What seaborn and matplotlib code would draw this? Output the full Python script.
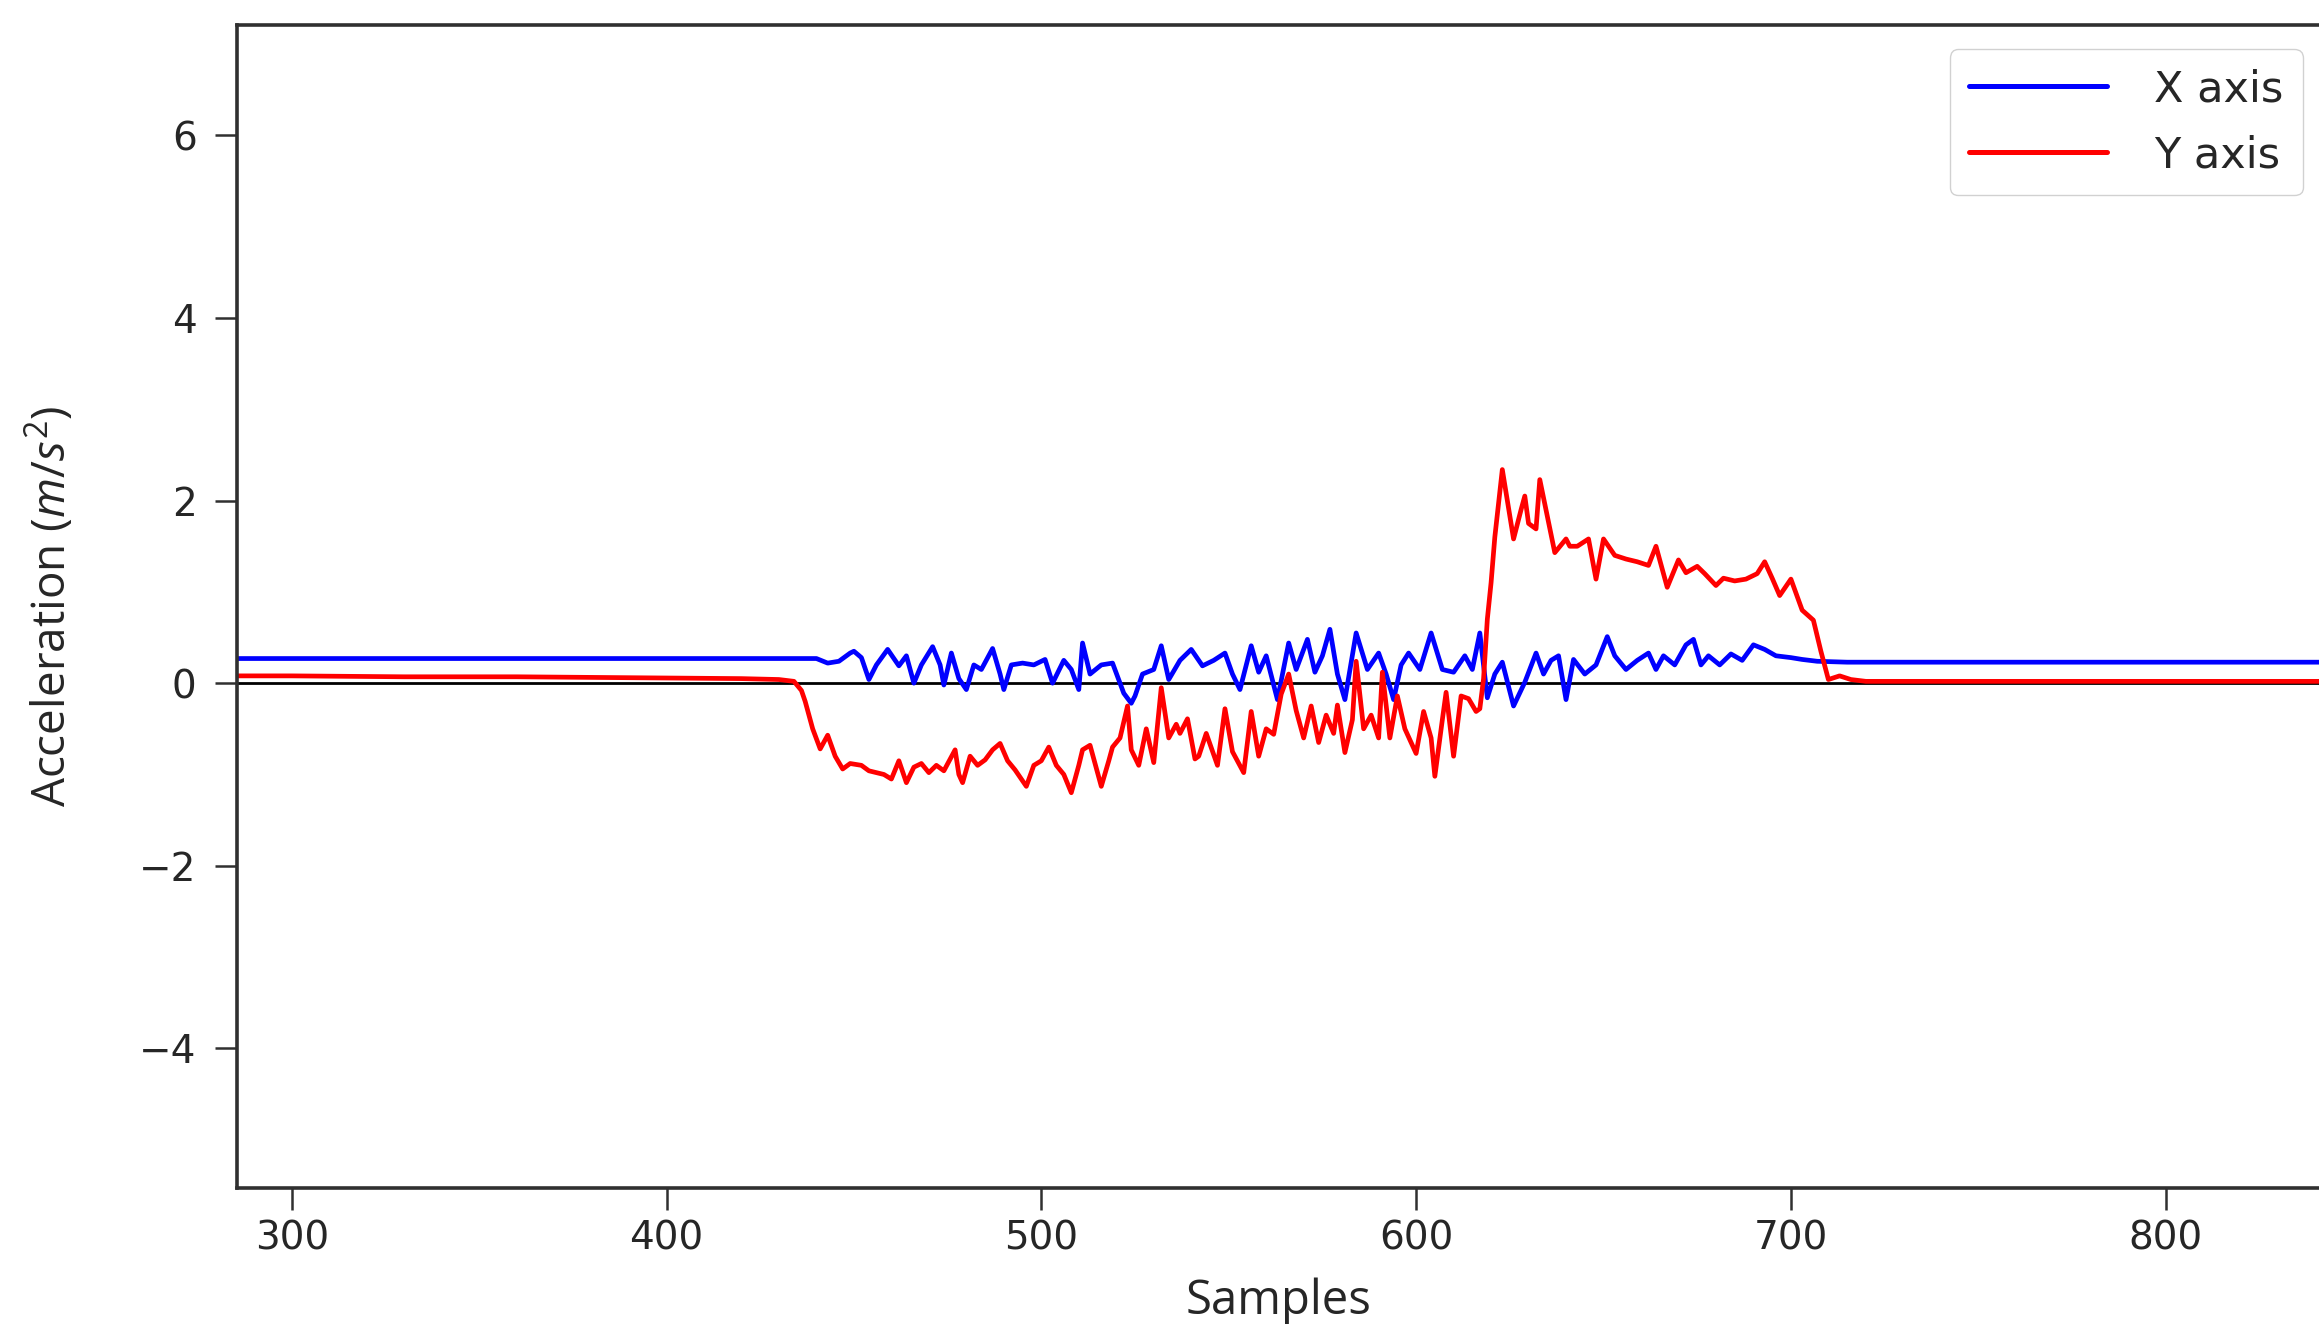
import numpy as np
import pandas as pd
import matplotlib
matplotlib.use("Agg")
import matplotlib.pyplot as plt
import seaborn as sns

# ---------------- data ----------------
series_labels = ["X axis", "Y axis"]

x_samples = [280, 320, 360, 400, 430, 440, 443, 446, 449, 450, 452, 454, 456, 459,
             462, 464, 466, 468, 471, 473, 474, 476, 478, 480, 482, 484, 487, 489,
             490, 492, 495, 498, 501, 503, 506, 508, 510, 511, 513, 516, 519, 522,
             524, 525, 527, 530, 532, 534, 537, 540, 543, 546, 549, 551, 553, 556,
             558, 560, 563, 566, 568, 571, 573, 575, 577, 579, 581, 584, 587, 590,
             592, 594, 596, 598, 601, 604, 607, 610, 613, 615, 617, 619, 621, 623,
             626, 629, 632, 634, 636, 638, 640, 642, 645, 648, 651, 653, 656, 659,
             662, 664, 666, 669, 672, 674, 676, 678, 681, 684, 687, 690, 693, 696,
             700, 703, 707, 715, 760, 800, 850]
x_values = [0.27, 0.27, 0.27, 0.27, 0.27, 0.27, 0.22, 0.24, 0.33, 0.35, 0.28, 0.04, 0.20, 0.37,
            0.19, 0.30, 0.00, 0.20, 0.40, 0.20, -0.02, 0.33, 0.05, -0.07, 0.20, 0.15, 0.38, 0.10,
            -0.07, 0.20, 0.22, 0.20, 0.26, 0.00, 0.25, 0.15, -0.07, 0.44, 0.10, 0.20, 0.22, -0.11,
            -0.22, -0.14, 0.10, 0.15, 0.41, 0.04, 0.25, 0.37, 0.19, 0.25, 0.33, 0.10, -0.07, 0.41,
            0.12, 0.30, -0.18, 0.44, 0.15, 0.48, 0.12, 0.30, 0.59, 0.10, -0.18, 0.55, 0.15, 0.33,
            0.10, -0.18, 0.20, 0.33, 0.15, 0.55, 0.15, 0.12, 0.30, 0.15, 0.55, -0.16, 0.10, 0.23,
            -0.25, 0.01, 0.33, 0.10, 0.25, 0.30, -0.18, 0.26, 0.10, 0.20, 0.51, 0.30, 0.15, 0.25,
            0.33, 0.15, 0.30, 0.20, 0.42, 0.48, 0.20, 0.30, 0.20, 0.32, 0.25, 0.42, 0.37, 0.30,
            0.28, 0.26, 0.24, 0.23, 0.23, 0.23, 0.23]

y_samples = [280, 300, 330, 360, 390, 420, 430, 434, 436, 437, 439, 441, 443, 445, 447,
             449, 452, 454, 456, 458, 460, 462, 464, 466, 468, 470, 472, 474, 477, 478,
             479, 481, 483, 485, 487, 489, 491, 493, 496, 498, 500, 502, 504, 506, 508,
             510, 511, 513, 516, 518, 519, 521, 523, 524, 526, 528, 530, 532, 534, 536,
             537, 539, 541, 542, 544, 547, 549, 551, 554, 556, 558, 560, 562, 564, 566,
             568, 570, 572, 574, 576, 578, 579, 581, 583, 584, 586, 588, 590, 591, 593,
             595, 597, 600, 602, 604, 605, 607, 608, 610, 612, 614, 616, 617, 618, 619,
             620, 621, 623, 626, 628, 629, 630, 632, 633, 635, 637, 640, 641, 643, 646,
             648, 650, 653, 656, 659, 662, 664, 667, 670, 672, 675, 677, 680, 682, 685,
             688, 691, 693, 695, 697, 700, 703, 706, 708, 710, 713, 716, 720, 760, 800, 850]
y_values = [0.08, 0.08, 0.07, 0.07, 0.06, 0.05, 0.04, 0.02, -0.08, -0.20, -0.50, -0.72, -0.57, -0.80, -0.94,
            -0.88, -0.90, -0.96, -0.98, -1.00, -1.05, -0.85, -1.09, -0.92, -0.88, -0.98, -0.90, -0.96, -0.73, -1.00,
            -1.09, -0.80, -0.90, -0.84, -0.73, -0.66, -0.85, -0.95, -1.13, -0.90, -0.85, -0.70, -0.90, -1.00, -1.20,
            -0.90, -0.73, -0.68, -1.13, -0.85, -0.70, -0.60, -0.25, -0.73, -0.90, -0.50, -0.87, -0.05, -0.60, -0.45,
            -0.55, -0.39, -0.83, -0.80, -0.55, -0.90, -0.28, -0.75, -0.98, -0.31, -0.80, -0.50, -0.56, -0.12, 0.10,
            -0.30, -0.60, -0.25, -0.65, -0.35, -0.55, -0.24, -0.76, -0.40, 0.24, -0.50, -0.35, -0.60, 0.12, -0.60,
            -0.14, -0.50, -0.77, -0.31, -0.60, -1.02, -0.40, -0.10, -0.80, -0.14, -0.17, -0.31, -0.28, 0.05, 0.70,
            1.10, 1.60, 2.34, 1.58, 1.90, 2.05, 1.75, 1.69, 2.23, 1.83, 1.43, 1.58, 1.50, 1.50, 1.58,
            1.14, 1.58, 1.40, 1.36, 1.33, 1.29, 1.50, 1.05, 1.35, 1.21, 1.28, 1.20, 1.07, 1.15, 1.12,
            1.14, 1.20, 1.33, 1.15, 0.96, 1.14, 0.80, 0.69, 0.35, 0.04, 0.08, 0.04, 0.02, 0.02, 0.02, 0.02]

x_ticks = [300, 400, 500, 600, 700, 800]
y_ticks = [-4, -2, 0, 2, 4, 6]

# ---------------- style ----------------
sns.set_style("ticks")
plt.rcParams["font.family"] = ["DejaVu Sans"]
plt.rcParams["mathtext.fontset"] = "custom"
plt.rcParams["mathtext.it"] = "Open Sans:italic"
plt.rcParams["mathtext.rm"] = "Open Sans"

text_col = "#262626"
spine_col = "#303030"

df = pd.concat([
    pd.DataFrame({"Samples": x_samples, "Acceleration": x_values, "Series": series_labels[0]}),
    pd.DataFrame({"Samples": y_samples, "Acceleration": y_values, "Series": series_labels[1]}),
], ignore_index=True)

fig, ax = plt.subplots(figsize=(23.19, 13.24), dpi=100)
fig.subplots_adjust(left=237 / 2319, right=1.0, top=1 - 25 / 1324, bottom=1 - 1188 / 1324)

ax.axhline(0, color="black", lw=2.0, zorder=1.5)
sns.lineplot(data=df, x="Samples", y="Acceleration", hue="Series",
             palette={"X axis": "#0000ff", "Y axis": "#ff0000"},
             estimator=None, sort=False, linewidth=3.4, ax=ax, zorder=2)

ax.set_xlim(285.4, 840.9)
ax.set_ylim(-5.53, 7.21)
ax.set_xticks(x_ticks)
ax.set_yticks(y_ticks)
ax.set_xticklabels([str(t) for t in x_ticks])
ax.set_yticklabels([("\u2212" + str(-t)) if t < 0 else str(t) for t in y_ticks])

ax.tick_params(axis="both", length=16, width=1.8, color=spine_col, labelsize=28,
               labelcolor=text_col, direction="out")
ax.tick_params(axis="y", pad=13)
ax.tick_params(axis="x", pad=7)

for side in ["left", "bottom", "top"]:
    ax.spines[side].set_color(spine_col)
    ax.spines[side].set_linewidth(2.6)
ax.spines["right"].set_visible(False)

ax.set_xlabel("Samples", fontsize=34, family="Open Sans", color=text_col)
ax.set_ylabel("Acceleration ($m/s^2$)", fontsize=33, family="Open Sans", color=text_col)
ax.xaxis.set_label_coords(0.5, -0.077)
ax.xaxis.label.set_va("top")
ax.yaxis.set_label_coords(-0.077, 0.5)

handles, labels = ax.get_legend_handles_labels()
leg = ax.legend(handles, labels, loc="upper right",
                bbox_to_anchor=(1 - 16 / 2082, 1 - 24 / 1163), borderaxespad=0,
                fontsize=31, handlelength=3.2, handletextpad=1.1, labelspacing=0.55,
                borderpad=0.45, frameon=True,
                fancybox=True, edgecolor="#cccccc", framealpha=0.9, title=None)
for t in leg.get_texts():
    t.set_color(text_col)
for line in leg.get_lines():
    line.set_linewidth(3.6)

fig.savefig("out.png", dpi=100)
